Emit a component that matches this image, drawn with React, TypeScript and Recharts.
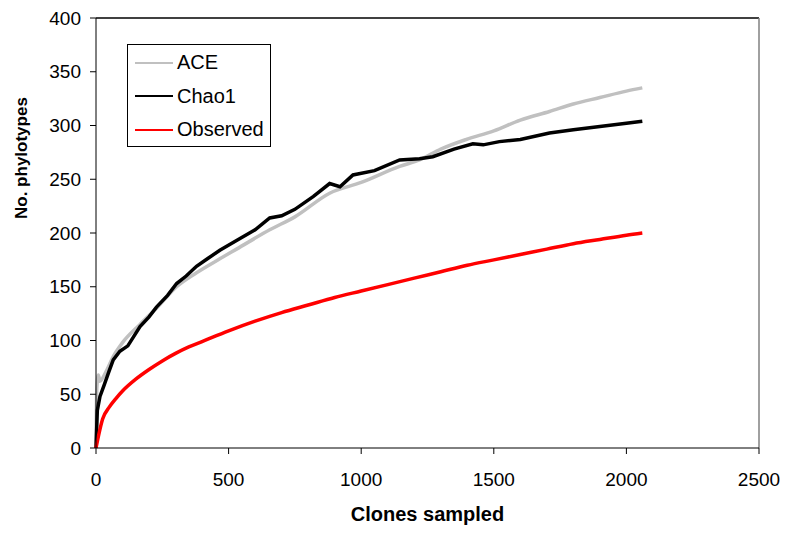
import {
	LineChart,
	Line,
	XAxis,
	YAxis,
	Legend,
	ReferenceLine,
} from 'recharts'

// clones sampled (x) and estimated phylotypes (y)
const aceX = [0, 3, 9, 15, 25, 40, 65, 100, 166, 228, 304, 379, 467, 530, 655, 750, 881, 1000, 1145, 1220, 1300, 1396, 1500, 1600, 1710, 1800, 1900, 2000, 2060]
const aceY = [0, 55, 68, 62, 65, 72, 85, 98, 115, 130, 150, 163, 176, 185, 203, 215, 237, 247, 262, 268, 278, 287, 295, 305, 313, 320, 326, 332, 335]

const chaoX = [0, 5, 15, 30, 50, 65, 90, 120, 166, 200, 228, 270, 304, 340, 379, 420, 467, 530, 600, 655, 700, 750, 820, 881, 920, 969, 1050, 1145, 1220, 1270, 1350, 1421, 1460, 1521, 1600, 1710, 1800, 1900, 2000, 2060]
const chaoY = [0, 35, 48, 58, 72, 82, 90, 95, 113, 122, 131, 142, 153, 160, 169, 176, 184, 193, 203, 214, 216, 222, 234, 246, 243, 254, 258, 268, 269, 271, 278, 283, 282, 285, 287, 293, 296, 299, 302, 304]

const obsX = [0, 10, 25, 50, 75, 100, 150, 200, 250, 300, 350, 400, 500, 600, 700, 800, 900, 1000, 1100, 1200, 1300, 1400, 1500, 1600, 1700, 1800, 1900, 2000, 2060]
const obsY = [0, 12, 27, 38, 46, 53, 64, 73, 81, 88, 94, 99, 109, 118, 126, 133, 140, 146, 152, 158, 164, 170, 175, 180, 185, 190, 194, 198, 200]

const xTicks = [0, 500, 1000, 1500, 2000, 2500]
const yTicks = [0, 50, 100, 150, 200, 250, 300, 350, 400]

const toPoints = (xs: number[], ys: number[]) => xs.map((x, i) => ({ x, y: ys[i] }))

const series = [
	{ name: 'ACE', color: '#c0c0c0', curve: 'monotone', data: toPoints(aceX, aceY) },
	{ name: 'Chao1', color: '#000000', curve: 'linear', data: toPoints(chaoX, chaoY) },
	{ name: 'Observed', color: '#ff0000', curve: 'monotone', data: toPoints(obsX, obsY) },
]

const font = 'Liberation Sans, Arial, sans-serif'

const renderLegend = (props: any) => (
	<div style={{ fontFamily: font, fontSize: 20, color: '#000', paddingTop: 1 }}>
		{props.payload.map((p: any) => (
			<div key={p.value} style={{ display: 'flex', alignItems: 'center', height: 33.5 }}>
				<svg width={49} height={10}>
					<line x1={7} y1={5} x2={45} y2={5} stroke={p.color} strokeWidth={2} />
				</svg>
				<span>{p.value}</span>
			</div>
		))}
	</div>
)

export default function App() {
	return (
		<div style={{ position: 'absolute', left: 0, top: 0, background: '#fff' }}>
			<LineChart
				width={786}
				height={535}
				margin={{ top: 18, right: 27, left: 0, bottom: 0 }}
			>
				<XAxis
					type='number'
					dataKey='x'
					domain={[0, 2500]}
					ticks={xTicks}
					stroke='#000'
					tickSize={6}
					tickMargin={19}
					height={87}
					tick={{ fill: '#000', fontSize: 19, fontFamily: font }}
					label={{ value: 'Clones sampled', position: 'insideBottom', offset: 14, fill: '#000', fontSize: 20, fontWeight: 'bold', fontFamily: font }}
				/>
				<YAxis
					type='number'
					dataKey='y'
					domain={[0, 400]}
					ticks={yTicks}
					stroke='#000'
					tickSize={6}
					tickMargin={9}
					width={96}
					tick={{ fill: '#000', fontSize: 19, fontFamily: font }}
					label={{ value: 'No. phylotypes', angle: -90, position: 'insideLeft', offset: 21, dy: -14, fill: '#000', fontSize: 17, fontWeight: 'bold', fontFamily: font }}
				/>
				<ReferenceLine y={400} stroke='#000' strokeWidth={1.5} ifOverflow='extendDomain' />
				<ReferenceLine x={2500} stroke='#808080' strokeWidth={1.5} ifOverflow='extendDomain' />
				<Legend
					layout='vertical'
					align='center'
					verticalAlign='middle'
					content={renderLegend}
					wrapperStyle={{ left: 127, top: 44, width: 144, height: 103, border: '1px solid #000', background: '#fff', boxSizing: 'border-box' }}
				/>
				{series.map((s) => (
					<Line
						key={s.name}
						data={s.data}
						dataKey='y'
						name={s.name}
						type={s.curve as any}
						stroke={s.color}
						strokeWidth={3.5}
						dot={false}
						isAnimationActive={false}
					/>
				))}
			</LineChart>
		</div>
	)
}
